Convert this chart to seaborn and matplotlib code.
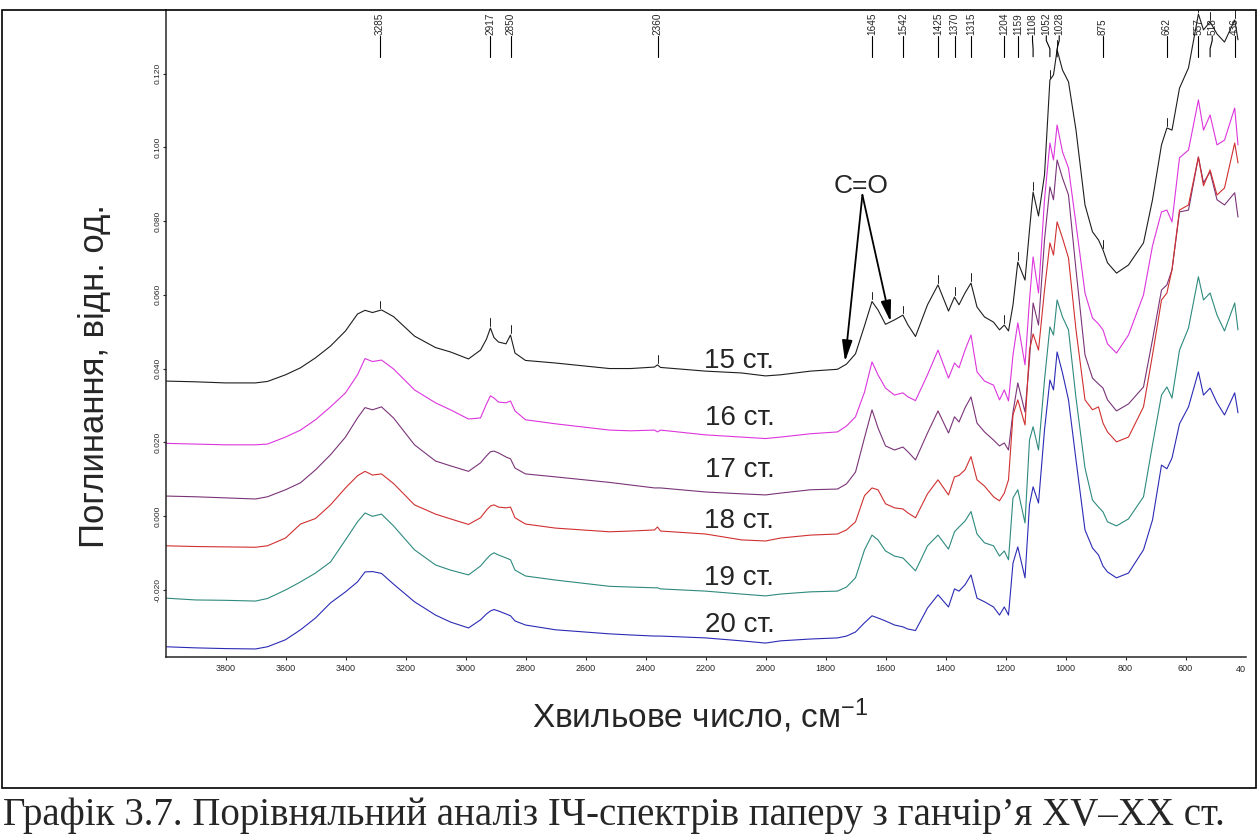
import numpy as np
import pandas as pd
import seaborn as sns
import matplotlib.pyplot as plt

# ----- spectra (wavenumber grid, cm-1) -----
wavenumber = [4000, 3900, 3800, 3700, 3660, 3600, 3550, 3500, 3450, 3400,
              3360, 3335, 3310, 3280, 3240, 3170, 3100, 3050, 2990, 2950,
              2930, 2917, 2905, 2890, 2865, 2850, 2835, 2800, 2700, 2520,
              2450, 2370, 2360, 2350, 2200, 2080, 2000, 1950, 1850, 1760,
              1730, 1700, 1670, 1645, 1625, 1600, 1570, 1542, 1525, 1500,
              1460, 1425, 1390, 1370, 1355, 1335, 1315, 1295, 1270, 1240,
              1220, 1204, 1190, 1175, 1159, 1135, 1120, 1108, 1090, 1070,
              1052, 1040, 1028, 1010, 990, 965, 935, 910, 890, 875,
              860, 830, 790, 740, 710, 680, 662, 645, 620, 590,
              557, 540, 518, 495, 470, 436, 425]

spec_15 = [0.0366, 0.0364, 0.0361, 0.0361, 0.0365, 0.0383, 0.0402, 0.0429, 0.0461, 0.0502,
           0.0548, 0.0558, 0.0552, 0.0559, 0.0541, 0.0488, 0.0457, 0.0445, 0.0426, 0.0450,
           0.0480, 0.0510, 0.0484, 0.0472, 0.0467, 0.0491, 0.0442, 0.0422, 0.0415, 0.0400,
           0.0400, 0.0404, 0.0410, 0.0403, 0.0393, 0.0388, 0.0380, 0.0383, 0.0393, 0.0398,
           0.0412, 0.0440, 0.0516, 0.0582, 0.0559, 0.0520, 0.0532, 0.0545, 0.0518, 0.0487,
           0.0573, 0.0627, 0.0556, 0.0594, 0.0573, 0.0605, 0.0632, 0.0567, 0.0540, 0.0526,
           0.0505, 0.0518, 0.0502, 0.0573, 0.0689, 0.0640, 0.0776, 0.0879, 0.0814, 0.0925,
           0.1183, 0.1197, 0.1265, 0.1210, 0.1178, 0.1047, 0.0844, 0.0771, 0.0749, 0.0722,
           0.0687, 0.0659, 0.0681, 0.0741, 0.0858, 0.1007, 0.1053, 0.1047, 0.1161, 0.1216,
           0.1362, 0.1319, 0.1341, 0.1308, 0.1286, 0.1346, 0.1292]

spec_16 = [0.0197, 0.0195, 0.0193, 0.0193, 0.0195, 0.0214, 0.0233, 0.0261, 0.0296, 0.0334,
           0.0383, 0.0427, 0.0419, 0.0423, 0.0399, 0.0342, 0.0307, 0.0288, 0.0263, 0.0266,
           0.0304, 0.0326, 0.0320, 0.0309, 0.0307, 0.0312, 0.0285, 0.0261, 0.0250, 0.0233,
           0.0231, 0.0233, 0.0228, 0.0233, 0.0220, 0.0214, 0.0210, 0.0214, 0.0223, 0.0228,
           0.0244, 0.0269, 0.0336, 0.0418, 0.0383, 0.0347, 0.0328, 0.0334, 0.0323, 0.0313,
           0.0383, 0.0450, 0.0374, 0.0415, 0.0402, 0.0450, 0.0491, 0.0391, 0.0366, 0.0355,
           0.0315, 0.0342, 0.0312, 0.0437, 0.0524, 0.0410, 0.0586, 0.0703, 0.0605, 0.0858,
           0.1012, 0.0966, 0.1061, 0.0988, 0.0944, 0.0792, 0.0605, 0.0537, 0.0521, 0.0505,
           0.0467, 0.0442, 0.0491, 0.0600, 0.0733, 0.0825, 0.0830, 0.0798, 0.0972, 0.0993,
           0.1129, 0.1047, 0.1088, 0.1007, 0.1020, 0.1107, 0.1007]

spec_17 = [0.0054, 0.0052, 0.0049, 0.0046, 0.0052, 0.0071, 0.0090, 0.0125, 0.0166, 0.0214,
           0.0266, 0.0294, 0.0288, 0.0296, 0.0266, 0.0193, 0.0149, 0.0136, 0.0121, 0.0144,
           0.0163, 0.0174, 0.0176, 0.0171, 0.0160, 0.0155, 0.0130, 0.0114, 0.0106, 0.0091,
           0.0084, 0.0076, 0.0076, 0.0076, 0.0065, 0.0060, 0.0057, 0.0062, 0.0071, 0.0073,
           0.0087, 0.0119, 0.0212, 0.0288, 0.0239, 0.0190, 0.0179, 0.0187, 0.0174, 0.0152,
           0.0225, 0.0285, 0.0225, 0.0269, 0.0255, 0.0293, 0.0323, 0.0252, 0.0228, 0.0206,
           0.0190, 0.0198, 0.0179, 0.0282, 0.0361, 0.0282, 0.0423, 0.0578, 0.0518, 0.0749,
           0.0893, 0.0858, 0.0966, 0.0917, 0.0871, 0.0668, 0.0437, 0.0374, 0.0358, 0.0347,
           0.0315, 0.0285, 0.0304, 0.0350, 0.0478, 0.0613, 0.0627, 0.0668, 0.0825, 0.0830,
           0.0974, 0.0904, 0.0934, 0.0858, 0.0844, 0.0877, 0.0811]

spec_18 = [-0.0081, -0.0083, -0.0084, -0.0085, -0.0081, -0.0060, -0.0022, -0.0007, 0.0030, 0.0076,
           0.0109, 0.0121, 0.0111, 0.0114, 0.0088, 0.0030, 0.0005, -0.0008, -0.0023, -0.0005,
           0.0016, 0.0027, 0.0030, 0.0024, 0.0022, 0.0024, -0.0005, -0.0022, -0.0033, -0.0043,
           -0.0041, -0.0038, -0.0030, -0.0041, -0.0049, -0.0065, -0.0068, -0.0060, -0.0052, -0.0049,
           -0.0038, -0.0016, 0.0055, 0.0076, 0.0071, 0.0033, 0.0022, 0.0019, 0.0008, -0.0005,
           0.0060, 0.0098, 0.0057, 0.0106, 0.0110, 0.0125, 0.0161, 0.0098, 0.0081, 0.0052,
           0.0041, 0.0062, 0.0098, 0.0274, 0.0315, 0.0247, 0.0450, 0.0494, 0.0450, 0.0613,
           0.0741, 0.0708, 0.0798, 0.0754, 0.0700, 0.0505, 0.0315, 0.0288, 0.0296, 0.0252,
           0.0228, 0.0201, 0.0214, 0.0296, 0.0437, 0.0586, 0.0605, 0.0668, 0.0830, 0.0844,
           0.0974, 0.0896, 0.0939, 0.0871, 0.0890, 0.1012, 0.0958]

spec_19 = [-0.0223, -0.0228, -0.0229, -0.0231, -0.0224, -0.0201, -0.0179, -0.0155, -0.0125, -0.0065,
           -0.0016, 0.0008, -0.0001, 0.0005, -0.0027, -0.0092, -0.0133, -0.0147, -0.0160, -0.0136,
           -0.0117, -0.0106, -0.0100, -0.0106, -0.0114, -0.0119, -0.0147, -0.0163, -0.0174, -0.0191,
           -0.0193, -0.0195, -0.0195, -0.0198, -0.0204, -0.0212, -0.0217, -0.0212, -0.0206, -0.0204,
           -0.0193, -0.0168, -0.0092, -0.0052, -0.0065, -0.0095, -0.0109, -0.0114, -0.0128, -0.0149,
           -0.0081, -0.0052, -0.0090, -0.0043, -0.0030, -0.0014, 0.0012, -0.0049, -0.0073, -0.0081,
           -0.0109, -0.0095, -0.0119, 0.0049, 0.0071, -0.0019, 0.0206, 0.0242, 0.0179, 0.0369,
           0.0513, 0.0491, 0.0586, 0.0540, 0.0505, 0.0320, 0.0130, 0.0043, 0.0024, 0.0011,
           -0.0016, -0.0027, -0.0008, 0.0052, 0.0193, 0.0328, 0.0350, 0.0320, 0.0450, 0.0510,
           0.0649, 0.0586, 0.0605, 0.0545, 0.0502, 0.0578, 0.0505]

spec_20 = [-0.0355, -0.0358, -0.0360, -0.0361, -0.0355, -0.0336, -0.0309, -0.0277, -0.0236, -0.0206,
           -0.0179, -0.0152, -0.0151, -0.0156, -0.0185, -0.0233, -0.0269, -0.0288, -0.0304, -0.0282,
           -0.0266, -0.0258, -0.0254, -0.0258, -0.0266, -0.0271, -0.0285, -0.0296, -0.0309, -0.0320,
           -0.0323, -0.0326, -0.0326, -0.0326, -0.0331, -0.0339, -0.0345, -0.0339, -0.0334, -0.0331,
           -0.0326, -0.0315, -0.0290, -0.0271, -0.0277, -0.0285, -0.0296, -0.0301, -0.0307, -0.0311,
           -0.0250, -0.0214, -0.0247, -0.0198, -0.0204, -0.0187, -0.0160, -0.0223, -0.0233, -0.0247,
           -0.0269, -0.0247, -0.0269, -0.0128, -0.0084, -0.0168, 0.0030, 0.0079, 0.0035, 0.0233,
           0.0369, 0.0342, 0.0445, 0.0388, 0.0315, 0.0152, -0.0038, -0.0087, -0.0106, -0.0136,
           -0.0152, -0.0168, -0.0155, -0.0092, -0.0011, 0.0138, 0.0128, 0.0157, 0.0250, 0.0296,
           0.0391, 0.0328, 0.0347, 0.0307, 0.0274, 0.0334, 0.0280]

samples = ["15 ст.", "16 ст.", "17 ст.", "18 ст.", "19 ст.", "20 ст."]
colors = ["#1e1e1e", "#dd35dd", "#7a3478", "#d03030", "#2e8a7e", "#2b2bb5"]

# labelled peaks on the top spectrum
peaks = [3285, 2917, 2850, 2360, 1645, 1542, 1425, 1370, 1315, 1204,
         1159, 1108, 1052, 1028, 875, 662, 557, 518, 436]
# where the peak label text sits (spread a little where labels crowd)
peak_label_x = [3285, 2917, 2850, 2360, 1645, 1542, 1425, 1370, 1315, 1204,
                1159, 1110, 1064, 1021, 875, 662, 557, 511, 436]

x_ticks = list(range(3800, 500, -200))
y_ticks = [0.120, 0.100, 0.080, 0.060, 0.040, 0.020, 0.000, -0.020]
y_ticklabels = ["0.120", "0.100", "0.080", "0.060", "0.040", "0.020", "0.000", "-0.020"]

caption = "Графік 3.7. Порівняльний аналіз ІЧ-спектрів паперу з ганчір’я XV–XX ст."

# ----- long-form table for seaborn -----
all_specs = [spec_15, spec_16, spec_17, spec_18, spec_19, spec_20]
df = pd.concat([pd.DataFrame({"wn": wavenumber, "absorb": s, "sample": name})
                for s, name in zip(all_specs, samples)], ignore_index=True)

sns.set_style("ticks")
plt.rcParams["font.family"] = ["Liberation Sans", "DejaVu Sans"]
plt.rcParams["mathtext.fontset"] = "custom"
plt.rcParams["mathtext.rm"] = "Liberation Sans"
plt.rcParams["mathtext.it"] = "Liberation Sans:italic"

W, H = 1259, 834
fig = plt.figure(figsize=(W / 100, H / 100), dpi=100)
ax = fig.add_axes([165.5 / W, 1 - 656.7 / H, 1080 / W, 646.7 / H])

sns.lineplot(data=df, x="wn", y="absorb", hue="sample", palette=colors,
             estimator=None, sort=False, legend=False, linewidth=0.8, ax=ax)

ax.set_xlim(4000, 400)
ax.set_ylim(-0.0382, 0.1373)

# small marks above the peaks of the top spectrum + labels along the top
wn_asc = np.array(wavenumber[::-1])
top_asc = np.array(spec_15[::-1])
for p, lx in zip(peaks, peak_label_x):
    yp = np.interp(p, wn_asc, top_asc)
    ax.plot([p, p], [yp + 0.0006, yp + 0.0026], color="#1e1e1e", lw=0.7)
    # leader line from label down to the peak position
    ax.plot([lx, lx, p, p], [0.1303, 0.1290, 0.1268, 0.1246],
            color="black", lw=0.8, clip_on=False)
    ax.text(lx, 0.1305, str(p), rotation=90, ha="center", va="bottom",
            fontsize=7.2, clip_on=False)

# sample names
label_x = 2087
label_y = [0.0402, 0.0247, 0.0106, -0.0033, -0.0187, -0.0315]
for name, ly in zip(samples, label_y):
    ax.text(label_x, ly, name, ha="center", va="baseline", fontsize=20)

# C=O annotation
ax.text(1680, 0.0877, "C=O", ha="center", va="baseline", fontsize=19)
for tip in [(1735, 0.0419), (1583, 0.0527)]:
    ax.annotate("", xy=tip, xytext=(1677, 0.0871),
                arrowprops=dict(arrowstyle="-|>,head_length=0.9,head_width=0.22",
                                color="black", lw=1.3, shrinkA=0, shrinkB=0,
                                mutation_scale=14))

# axes cosmetics
ax.spines[["top", "right"]].set_visible(False)
for s in ["left", "bottom"]:
    ax.spines[s].set_linewidth(1.1)
ax.set_xticks(x_ticks)
ax.set_xticklabels([str(t) for t in x_ticks])
ax.set_yticks(y_ticks)
ax.set_yticklabels(y_ticklabels, rotation=90, va="center")
ax.tick_params(axis="x", length=2.5, width=0.8, pad=2.8, labelsize=6.5)
ax.tick_params(axis="y", length=2.5, width=0.8, pad=0.5, labelsize=6)
ax.text(400, -0.0195, "40", transform=ax.get_xaxis_transform(),
        ha="right", va="center", fontsize=6.5)

ax.set_xlabel("Хвильове число, см$^{-1}$", fontsize=24, va="center")
ax.xaxis.set_label_coords((700 - 165.5) / 1080, (656.7 - 716) / 646.7)
ax.set_ylabel("Поглинання, відн. од.", fontsize=25, va="center")
ax.yaxis.set_label_coords((95 - 165.5) / 1080, (656.7 - 376) / 646.7)

# frame around the chart and the caption underneath
fig.add_artist(plt.Rectangle((2 / W, 1 - 788 / H), 1254 / W, 778 / H,
                             transform=fig.transFigure, fill=False,
                             lw=1.2, color="black"))
fig.text(3 / W, 1 - 825 / H, caption, family="Liberation Serif",
         fontsize=28, ha="left", va="baseline")

fig.savefig("out.png", dpi=100)
